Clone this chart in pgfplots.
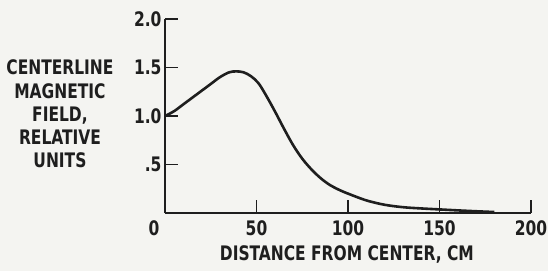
\documentclass[border=0pt]{standalone}
\usepackage{fontspec}
\setmainfont{DejaVu Sans Condensed}[FakeStretch=0.86]
\usepackage{pgfplots}
\pgfplotsset{compat=1.18}
\definecolor{paper}{RGB}{244,244,241}
\definecolor{ink}{RGB}{30,30,30}
\begin{document}
\begin{tikzpicture}
\path[use as bounding box, fill=paper] (0,0) rectangle (548pt,271pt);
\begin{axis}[
  at={(165pt,58pt)}, anchor=south west,
  scale only axis, width=366pt, height=194pt,
  xmin=0, xmax=200, ymin=0, ymax=2,
  axis lines=left, axis line style={-, line width=1.6pt, ink},
  tick align=inside, major tick length=13pt,
  tick style={line width=1.6pt, ink},
  xtick={50,100,150,200}, xticklabels={50,100,150,200},
  extra x ticks={0}, extra x tick labels={0},
  extra x tick style={major tick length=0pt, xticklabel style={xshift=-11pt}},
  ytick={0.5,1,1.5,2}, yticklabels={.5,1.0,1.5,2.0},
  font=\fontsize{20pt}{23.3pt}\selectfont\bfseries\color{ink},
  xticklabel style={yshift=-4pt},
  yticklabel style={xshift=0pt},
  xlabel={DISTANCE FROM CENTER, CM},
  xlabel style={at={(axis description cs:0.497,-0.216)}, anchor=center},
  ylabel={CENTERLINE\\MAGNETIC\\FIELD,\\RELATIVE\\UNITS},
  ylabel style={rotate=-90, align=center, anchor=center, at={(axis description cs:-0.287,0.51)}},
  clip=false,
]
\addplot[ink, line width=2.6pt, smooth, tension=0.55] coordinates {
(0,1.00) (5,1.05) (10,1.12) (15,1.19) (20,1.26) (25,1.33) (30,1.40) (35,1.45)
(39,1.46) (43,1.45) (47,1.41) (51,1.34) (55,1.22) (60,1.05) (65,0.87) (70,0.70)
(75,0.56) (80,0.45) (85,0.36) (90,0.29) (95,0.24) (100,0.20) (110,0.13)
(120,0.085) (130,0.06) (140,0.047) (150,0.037) (160,0.027) (170,0.018) (180,0.01)
};
\end{axis}
\end{tikzpicture}
\end{document}
